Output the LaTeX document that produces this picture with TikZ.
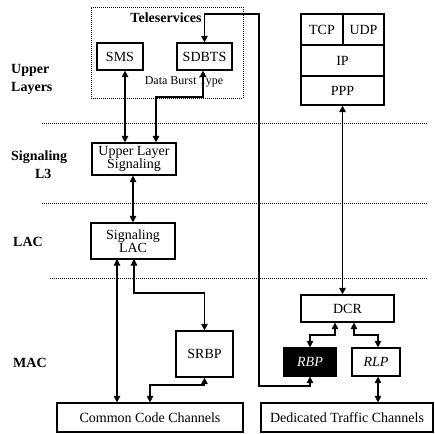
\documentclass[tikz,border=0pt]{standalone}
\usepackage{fontspec}
\setmainfont{Liberation Serif}
\usetikzlibrary{arrows.meta,calc}
\begin{document}
\begin{tikzpicture}[x=1pt,y=-1pt,
  box/.style={draw,line width=1.2pt,inner sep=0pt,font=\fontsize{14}{13.5}\selectfont,align=center},
  lbl/.style={font=\fontsize{14}{18.5}\selectfont\bfseries,align=left,inner sep=0pt,anchor=west},
  arr/.style={line width=1.2pt,{Triangle[length=6.5pt,width=6.5pt]}-{Triangle[length=6.5pt,width=6.5pt]}},
  sep/.style={line width=0.6pt,dash pattern=on 1pt off 1pt}]
\useasboundingbox (0,0) rectangle (435,433);
% dotted teleservices frame
\node[draw,sep,minimum width=152pt,minimum height=91pt,inner sep=0pt] (tele) at (167,52.5) {};
\node[font=\fontsize{14}{14}\selectfont\bfseries,inner sep=0pt] (teletxt) at (166,18) {Teleservices};
\node[font=\fontsize{12}{13}\selectfont,inner sep=0pt] (dbt) at (184,82) {Data Burst Type};
% separator lines
\coordinate (s1a) at (42,123); \coordinate (s1b) at (428,123);
\coordinate (s2a) at (42,203); \coordinate (s2b) at (428,203);
\coordinate (s3a) at (50,278); \coordinate (s3b) at (428,278);
\draw[sep] (s1a) -- (s1b);
\draw[sep] (s2a) -- (s2b);
\draw[sep] (s3a) -- (s3b);
% left labels
\node[lbl] (l1) at (11,79.5) {Upper\\Layers};
\node[lbl] (l2) at (11,164.5) {Signaling\\\hspace*{1.7em}L3};
\node[lbl] (l3) at (13,242) {LAC};
\node[lbl] (l4) at (13,363) {MAC};
% boxes
\node[box,minimum width=46pt,minimum height=27pt] (sms) at (120,56.5) {SMS};
\node[box,minimum width=55pt,minimum height=27pt] (sdbts) at (204.5,56.5) {SDBTS};
\node[box,minimum width=84pt,minimum height=32pt] (uls) at (134,159) {Upper Layer\\Signaling};
\node[box,minimum width=84pt,minimum height=36pt] (lac) at (133,241) {Signaling\\LAC};
\node[box,minimum width=57pt,minimum height=46pt] (srbp) at (204.5,354) {SRBP};
\node[box,minimum width=186pt,minimum height=29pt] (ccc) at (150,417.5) {Common Code Channels};
\node[box,minimum width=172pt,minimum height=29pt] (dtc) at (347,417.5) {Dedicated Traffic Channels};
\node[box,minimum width=93pt,minimum height=27pt] (dcr) at (347.5,308.5) {DCR};
\node[box,fill=black,text=white,minimum width=52pt,minimum height=28pt] (rbp) at (310,362) {\itshape RBP};
\node[box,minimum width=48pt,minimum height=28pt] (rlp) at (376,362) {\itshape RLP};
\node[box,minimum width=42pt,minimum height=31pt] (tcp) at (322,29.5) {TCP};
\node[box,minimum width=41pt,minimum height=31pt] (udp) at (363.5,29.5) {UDP};
\node[box,minimum width=83pt,minimum height=31pt] (ip) at (342.5,60.5) {IP};
\node[box,minimum width=83pt,minimum height=29pt] (ppp) at (342.5,90.5) {PPP};
% connector coordinates
\coordinate (a1) at ([xshift=5pt]sms.south);
\coordinate (a2) at ([xshift=-1.5pt]sdbts.south);
\coordinate (b1) at (156,97);
\coordinate (t1) at (259,14);
\coordinate (t2) at (259,386);
\coordinate (a3) at ([xshift=-1pt]uls.south);
\coordinate (a4) at (117,259);
\coordinate (a5) at (134,259);
\coordinate (b2) at (134,293);
\coordinate (b3) at (150,385);
\coordinate (a6) at ([xshift=-12.5pt]dcr.south);
\coordinate (a7) at ([xshift=6.5pt]dcr.south);
\coordinate (b4) at (310,335);
\coordinate (b5) at (378,335);
\coordinate (a8) at ([xshift=2pt]rlp.south);
% connectors
\draw[arr] (a1) -- (a1 |- uls.north);
\draw[arr] (a2) |- (b1) -- (b1 |- uls.north);
\draw[arr] (sdbts.north) |- (t1) -- (t2) -| (rbp.south);
\draw[arr] (a3) -- (a3 |- lac.north);
\draw[arr] (a4) -- (a4 |- ccc.north);
\draw[arr] (a5) |- (b2) -| (srbp.north);
\draw[arr] (srbp.south) |- (b3) -- (b3 |- ccc.north);
\draw[arr] (ppp.south) -- (ppp.south |- dcr.north);
\draw[arr] (a6) |- (b4) -- (b4 |- rbp.north);
\draw[arr] (a7) |- (b5) -- (b5 |- rlp.north);
\draw[arr] (a8) -- (a8 |- dtc.north);
\end{tikzpicture}
\end{document}
